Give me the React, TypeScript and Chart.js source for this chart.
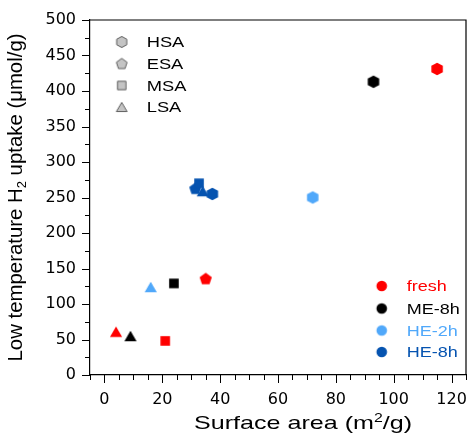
import React, { useEffect, useRef } from 'react';
import { Chart, registerables } from 'chart.js';

Chart.register(...registerables);

const FONT = '"Liberation Sans", Arial, sans-serif';
const TICK_FONT = '"DejaVu Sans", sans-serif';

// ---- data ----
const seriesNames = ['fresh', 'ME-8h', 'HE-2h', 'HE-8h'];
const seriesColors = ['#ff0000', '#000000', '#50a8fa', '#0553b0'];
const sampleNames = ['HSA', 'ESA', 'MSA', 'LSA'];

const freshSamples = ['HSA', 'ESA', 'MSA', 'LSA'];
const freshArea = [115, 35, 21, 4];
const freshUptake = [431, 136, 48, 61];

const me8hSamples = ['HSA', 'MSA', 'LSA'];
const me8hArea = [93, 24, 9];
const me8hUptake = [413, 129, 55];

const he2hSamples = ['HSA', 'LSA'];
const he2hArea = [72, 16];
const he2hUptake = [250, 124];

const he8hSamples = ['LSA', 'ESA', 'MSA', 'HSA'];
const he8hArea = [34, 31.4, 32.7, 37.3];
const he8hUptake = [259, 263, 270, 255];

const xTickValues = [0, 20, 40, 60, 80, 100, 120];
const yTickValues = [0, 50, 100, 150, 200, 250, 300, 350, 400, 450, 500];
const X_MIN = -5;
const X_MAX = 125;
const Y_MIN = 0;
const Y_MAX = 500;
const X_MINOR = 5;
const Y_MINOR = 25;

function shapeCanvas(kind: string, fill: string, stroke: string | null, k = 1) {
  const S = 18;
  const c = document.createElement('canvas');
  c.width = S;
  c.height = S;
  const g = c.getContext('2d')!;
  g.translate(S / 2, S / 2);
  g.beginPath();
  if (kind === 'HSA') {
    const r = 6.3 * k;
    for (let i = 0; i < 6; i++) {
      const a = -Math.PI / 2 + (i * Math.PI) / 3;
      const px = r * Math.cos(a) * 1.05;
      const py = r * Math.sin(a);
      if (i === 0) g.moveTo(px, py);
      else g.lineTo(px, py);
    }
  } else if (kind === 'ESA') {
    const r = 6.4 * k;
    const off = 0.0955 * r;
    for (let i = 0; i < 5; i++) {
      const a = -Math.PI / 2 + (i * 2 * Math.PI) / 5;
      const px = r * Math.cos(a);
      const py = r * Math.sin(a) + off;
      if (i === 0) g.moveTo(px, py);
      else g.lineTo(px, py);
    }
  } else if (kind === 'MSA') {
    const h = 4.8 * k;
    g.rect(-h, -h, 2 * h, 2 * h);
  } else if (kind === 'LSA') {
    const w = 6.1 * k;
    const h = 5.2 * k;
    g.moveTo(0, -h);
    g.lineTo(w, h);
    g.lineTo(-w, h);
  } else {
    g.arc(0, 0, 5.3 * k, 0, Math.PI * 2);
  }
  g.closePath();
  g.fillStyle = fill;
  g.fill();
  if (stroke) {
    g.strokeStyle = stroke;
    g.lineWidth = 1;
    g.stroke();
  }
  return c;
}

type Seg = { t: string; size: number; dy: number };

function drawSegs(
  ctx: CanvasRenderingContext2D,
  segs: Seg[],
  x: number,
  y: number,
  color: string,
  opts: { targetW?: number; sx?: number; center?: boolean; rotate?: boolean }
) {
  ctx.save();
  const widths = segs.map((s) => {
    ctx.font = `${s.size}px ${FONT}`;
    return ctx.measureText(s.t).width;
  });
  const W = widths.reduce((a, b) => a + b, 0);
  const sx = opts.targetW ? opts.targetW / W : opts.sx ?? 1;
  ctx.translate(x, y);
  if (opts.rotate) ctx.rotate(-Math.PI / 2);
  ctx.scale(sx, 1);
  ctx.fillStyle = color;
  ctx.textAlign = 'left';
  ctx.textBaseline = 'alphabetic';
  let cx = opts.center ? -W / 2 : 0;
  segs.forEach((s, i) => {
    ctx.font = `${s.size}px ${FONT}`;
    ctx.fillText(s.t, cx, s.dy);
    cx += widths[i];
  });
  ctx.restore();
}

export default function App() {
  const ref = useRef<HTMLCanvasElement>(null);

  useEffect(() => {
    const canvas = ref.current!;
    const shapes = seriesColors.map((col) => {
      const m: Record<string, HTMLCanvasElement> = {};
      sampleNames.forEach((s) => (m[s] = shapeCanvas(s, col, null)));
      m.dot = shapeCanvas('dot', col, null);
      return m;
    });
    const legendShapes: Record<string, HTMLCanvasElement> = {};
    sampleNames.forEach((s) => (legendShapes[s] = shapeCanvas(s, '#c4c4c4', '#5e5e5e', 0.88)));

    const groups = [
      { samples: freshSamples, xs: freshArea, ys: freshUptake },
      { samples: me8hSamples, xs: me8hArea, ys: me8hUptake },
      { samples: he2hSamples, xs: he2hArea, ys: he2hUptake },
      { samples: he8hSamples, xs: he8hArea, ys: he8hUptake },
    ];

    const datasets = groups.map((g, i) => ({
      label: seriesNames[i],
      data: g.xs.map((x, j) => ({ x, y: g.ys[j] })),
      pointStyle: g.samples.map((s) => shapes[i][s]),
      pointRadius: 6,
      pointHoverRadius: 6,
      backgroundColor: seriesColors[i],
      borderColor: seriesColors[i],
    }));

    const decor = {
      id: 'decor',
      afterDraw(chart: any) {
        const { ctx, chartArea: a, scales } = chart;
        const xs = scales.x;
        const ys = scales.y;
        ctx.save();
        ctx.strokeStyle = '#000';
        ctx.lineWidth = 1.2;
        ctx.beginPath();
        ctx.moveTo(a.left, a.top);
        ctx.lineTo(a.right, a.top);
        ctx.lineTo(a.right, a.bottom);
        ctx.stroke();

        ctx.lineWidth = 1;
        ctx.beginPath();
        for (let v = X_MIN; v <= X_MAX + 0.001; v += X_MINOR) {
          const px = Math.round(xs.getPixelForValue(v)) + 0.5;
          const len = xTickValues.includes(v) ? 8 : 5;
          ctx.moveTo(px, a.bottom);
          ctx.lineTo(px, a.bottom + len);
        }
        for (let v = Y_MIN; v <= Y_MAX + 0.001; v += Y_MINOR) {
          const py = Math.round(ys.getPixelForValue(v)) + 0.5;
          const len = yTickValues.includes(v) ? 8 : 5;
          ctx.moveTo(a.left, py);
          ctx.lineTo(a.left - len, py);
        }
        ctx.stroke();

        // shape legend
        const l1y = [42, 63.5, 85.5, 107];
        sampleNames.forEach((s, i) => {
          const img = legendShapes[s];
          ctx.drawImage(img, 121.7 - img.width / 2, l1y[i] - img.height / 2);
          drawSegs(ctx, [{ t: s, size: 15, dy: 0 }], 146.7, l1y[i] + 5.4, '#000', { sx: 1.22 });
        });

        // colour legend
        const l2y = [286, 308.5, 330.5, 352];
        seriesNames.forEach((s, i) => {
          const img = shapes[i].dot;
          ctx.drawImage(img, 381.7 - img.width / 2, l2y[i] - img.height / 2);
          drawSegs(ctx, [{ t: s, size: 15, dy: 0 }], 406.7, l2y[i] + 5.4, seriesColors[i], { sx: 1.2 });
        });

        // axis titles
        drawSegs(
          ctx,
          [
            { t: 'Surface area (m', size: 19, dy: 0 },
            { t: '2', size: 12, dy: -7.5 },
            { t: '/g)', size: 19, dy: 0 },
          ],
          194,
          429,
          '#000',
          { targetW: 218 }
        );
        drawSegs(
          ctx,
          [
            { t: 'Low temperature H', size: 20.5, dy: 0 },
            { t: '2', size: 13, dy: 4 },
            { t: ' uptake (\u03bcmol/g)', size: 20.5, dy: 0 },
          ],
          22,
          197.5,
          '#000',
          { targetW: 328, center: true, rotate: true }
        );
        ctx.restore();
      },
    };

    const chart = new Chart(canvas, {
      type: 'scatter',
      data: { datasets: datasets as any },
      options: {
        animation: false,
        responsive: false,
        devicePixelRatio: 1,
        events: [],
        layout: { padding: { left: 0, right: 3, top: 20, bottom: 0 } },
        plugins: { legend: { display: false }, tooltip: { enabled: false } },
        scales: {
          x: {
            type: 'linear',
            min: X_MIN,
            max: X_MAX,
            afterBuildTicks: (s: any) => {
              s.ticks = xTickValues.map((v) => ({ value: v }));
            },
            afterFit: (s: any) => {
              s.height = 65;
              s.paddingLeft = 0;
              s.paddingRight = 0;
            },
            ticks: {
              color: '#000',
              font: { family: TICK_FONT, size: 16 },
              padding: 15,
              maxRotation: 0,
              autoSkip: false,
            },
            grid: { display: false, drawTicks: false },
            border: { display: true, color: '#000', width: 1.2 },
          },
          y: {
            type: 'linear',
            min: Y_MIN,
            max: Y_MAX,
            afterBuildTicks: (s: any) => {
              s.ticks = yTickValues.map((v) => ({ value: v }));
            },
            afterFit: (s: any) => {
              s.width = 90;
              s.paddingTop = 0;
              s.paddingBottom = 0;
            },
            ticks: {
              color: '#000',
              font: { family: TICK_FONT, size: 16 },
              padding: 14,
              autoSkip: false,
            },
            grid: { display: false, drawTicks: false },
            border: { display: true, color: '#000', width: 1.2 },
          },
        },
      },
      plugins: [decor],
    });
    return () => chart.destroy();
  }, []);

  return (
    <div style={{ position: 'absolute', left: 0, top: 0, width: 473, height: 440, background: '#fff' }}>
      <canvas ref={ref} width={473} height={440} style={{ display: 'block', width: 473, height: 440 }} />
    </div>
  );
}
